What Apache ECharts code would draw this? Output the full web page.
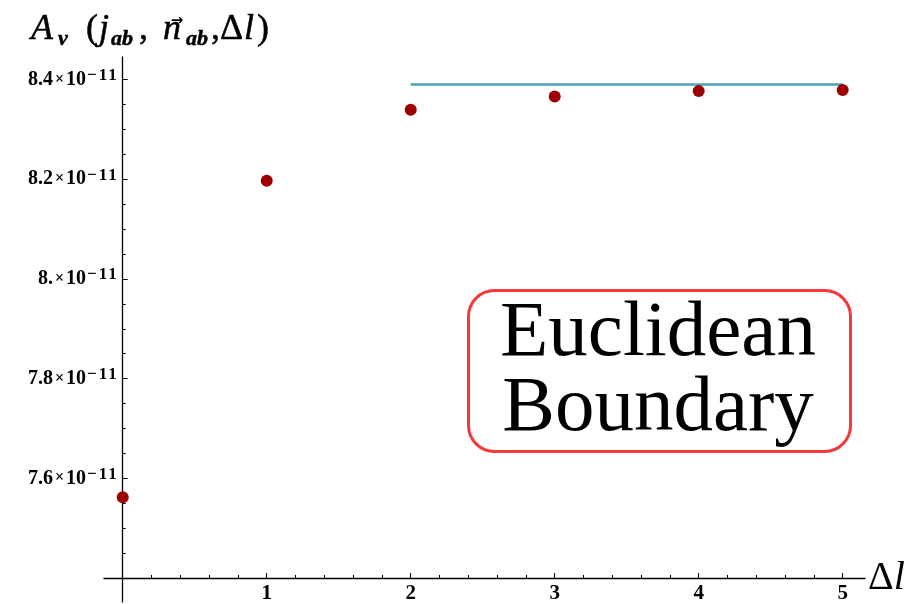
<!DOCTYPE html>
<html>
<head>
<meta charset="utf-8">
<script src="https://cdn.jsdelivr.net/npm/echarts@6/dist/echarts.min.js"></script>
<style>html,body{margin:0;padding:0;background:#fff;}#c{width:912px;height:604px;}</style>
</head>
<body>
<div id="c"></div>
<script>
// ---- data ----
const deltaL = [0, 1, 2, 3, 4, 5];
const amplitudes = [7.562e-11, 8.197e-11, 8.339e-11, 8.366e-11, 8.377e-11, 8.379e-11];
const limitX = [2, 5];
const limitValue = 8.39e-11;
const xTickValues = [0, 1, 2, 3, 4, 5];
const xLabelValues = [1, 2, 3, 4, 5];
const xMinorTicks = [0.2, 0.4, 0.6, 0.8, 1.2, 1.4, 1.6, 1.8, 2.2, 2.4, 2.6, 2.8, 3.2, 3.4, 3.6, 3.8, 4.2, 4.4, 4.6, 4.8];
const yTickValues = [7.6e-11, 7.8e-11, 8.0e-11, 8.2e-11, 8.4e-11];
const yTickLabels = ['7.6', '7.8', '8.', '8.2', '8.4'];
const yMinorTicks = [7.45e-11, 7.5e-11, 7.55e-11, 7.65e-11, 7.7e-11, 7.75e-11, 7.85e-11, 7.9e-11, 7.95e-11, 8.05e-11, 8.1e-11, 8.15e-11, 8.25e-11, 8.3e-11, 8.35e-11];
const boxLines = ['Euclidean', 'Boundary'];

const chart = echarts.init(document.getElementById('c'), null, {renderer: 'canvas'});
const serif = 'Liberation Serif';
const xMin = -0.13, xMax = 5.155;
const yMin = 7.352e-11, yMax = 8.445e-11;

function yLabel(v) {
  let best = 0;
  for (let i = 1; i < yTickValues.length; i++) {
    if (Math.abs(yTickValues[i] - v) < Math.abs(yTickValues[best] - v)) best = i;
  }
  return '{m|' + yTickLabels[best] + '}{x|×}{b|10}{s|−}{t|1}{t|1}';
}

// title pieces (y-axis name) as positioned text
function tpiece(str, x, size, italic, bold, baseline) {
  return {
    type: 'text', x: x, y: baseline - 0.29 * size,
    style: {text: str, fontFamily: serif, fontSize: size, fontStyle: italic ? 'italic' : 'normal',
      fontWeight: bold ? 'bold' : 'normal', fill: '#000', align: 'left', verticalAlign: 'middle',
      stroke: '#000', lineWidth: 0.5}
  };
}
const MB = 40, SB = 46, MS = 36, SS = 22;
const titleParts = [
  tpiece('A', 31, MS, true, false, MB),
  tpiece('v', 58, SS, true, true, SB),
  tpiece('(', 86, MS, false, false, MB),
  tpiece('j', 99, MS, true, false, MB),
  tpiece('ab', 111, SS, true, true, SB),
  tpiece(',', 139, MS, false, false, MB),
  tpiece('n', 163, MS, true, false, MB),
  tpiece('ab', 186, SS, true, true, SB),
  tpiece(',Δ', 211, MS, false, false, MB),
  tpiece('l', 244, MS, true, false, MB),
  tpiece(')', 257, MS, false, false, MB),
  {type: 'text', x: 177, y: 21,
   style: {text: '→', fontFamily: 'DejaVu Sans', fontWeight: 'bold', fontSize: 15, fill: '#000', align: 'center', verticalAlign: 'middle'}}
];

const option = {
  animation: false,
  backgroundColor: '#fff',
  grid: {left: 104, right: 47, top: 57, bottom: 0, containLabel: false},
  xAxis: [{
    type: 'value', min: xMin, max: xMax, offset: -24,
    axisLine: {onZero: false, lineStyle: {color: '#000', width: 1.3}},
    axisTick: {inside: true, length: 5, customValues: xTickValues, lineStyle: {color: '#000'}},
    axisLabel: {customValues: xLabelValues, margin: 5, color: '#000', fontFamily: serif, fontWeight: 'bold', fontSize: 21},
    splitLine: {show: false},
    name: '{d|Δ}{l|l}', nameLocation: 'end', nameGap: 3,
    nameTextStyle: {rich: {
      d: {fontFamily: serif, fontSize: 40, color: '#000'},
      l: {fontFamily: serif, fontSize: 40, fontStyle: 'italic', color: '#000'}
    }}
  }, {
    type: 'value', min: xMin, max: xMax, offset: -24, position: 'bottom',
    axisLine: {show: false, onZero: false},
    axisTick: {inside: true, length: 3, customValues: xMinorTicks, lineStyle: {color: '#000'}},
    axisLabel: {show: false}, splitLine: {show: false}
  }],
  yAxis: [{
    type: 'value', min: yMin, max: yMax, position: 'left', offset: -18.7,
    axisLine: {onZero: false, lineStyle: {color: '#000', width: 1.3}},
    axisTick: {inside: true, length: 5, customValues: yTickValues, lineStyle: {color: '#000'}},
    axisLabel: {
      customValues: yTickValues, margin: 6, formatter: yLabel,
      rich: {
        m: {fontFamily: serif, fontWeight: 'bold', fontSize: 20, color: '#000'},
        x: {fontFamily: serif, fontWeight: 'bold', fontSize: 16, color: '#000', padding: [0, 2, 0, 2]},
        b: {fontFamily: serif, fontWeight: 'bold', fontSize: 20, color: '#000'},
        s: {fontFamily: serif, fontWeight: 'bold', fontSize: 17, color: '#000', verticalAlign: 'top', padding: [0, 1, 8, 1]},
        t: {fontFamily: serif, fontWeight: 'bold', fontSize: 17, color: '#000', verticalAlign: 'top', padding: [0, 0, 8, 1]}
      }
    },
    splitLine: {show: false}
  }, {
    type: 'value', min: yMin, max: yMax, position: 'left', offset: -18.7,
    axisLine: {show: false, onZero: false},
    axisTick: {inside: true, length: 3, customValues: yMinorTicks, lineStyle: {color: '#000'}},
    axisLabel: {show: false}, splitLine: {show: false}
  }],
  series: [{
    type: 'line', xAxisIndex: 0, yAxisIndex: 0,
    data: limitX.map(x => [x, limitValue]),
    showSymbol: false, symbol: 'none',
    lineStyle: {color: '#4ba2b4', width: 2.5},
    z: 2
  }, {
    type: 'scatter', xAxisIndex: 0, yAxisIndex: 0,
    data: deltaL.map((x, i) => [x, amplitudes[i]]),
    symbolSize: 12,
    itemStyle: {color: '#9c0000', opacity: 1},
    z: 3
  }],
  graphic: [{
    type: 'rect', left: 467, top: 289,
    shape: {width: 382, height: 161, r: 26},
    style: {fill: '#fff', stroke: '#f23a3a', lineWidth: 3}
  }, {
    type: 'text', x: 658, y: 334,
    style: {text: boxLines[0], fontFamily: serif, fontSize: 79, fill: '#000', align: 'center', verticalAlign: 'middle'}
  }, {
    type: 'text', x: 658, y: 409,
    style: {text: boxLines[1], fontFamily: serif, fontSize: 79, fill: '#000', align: 'center', verticalAlign: 'middle'}
  }].concat(titleParts)
};
chart.setOption(option);
</script>
</body>
</html>
